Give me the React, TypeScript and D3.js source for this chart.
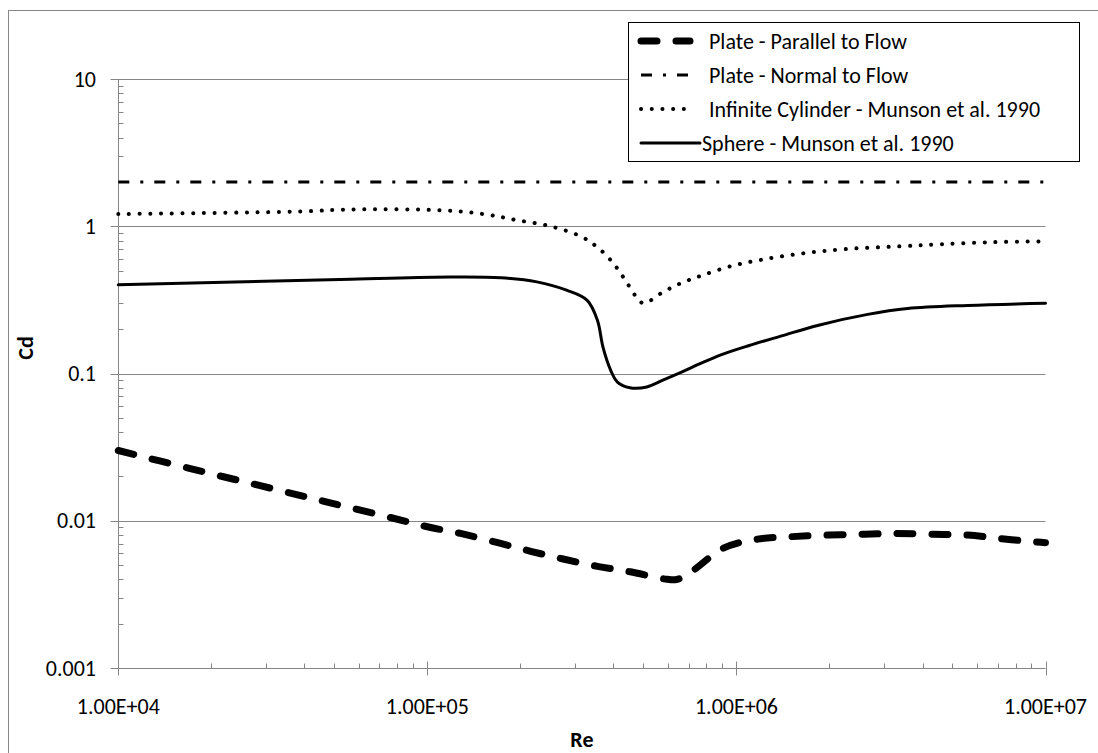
import { useEffect, useRef } from "react";
import * as d3 from "d3";

// ---------------- data ----------------
const parallelRe = [1e4, 1.71e4, 2.88e4, 4.74e4, 7.76e4, 1e5, 1.28e5, 1.69e5, 2.16e5, 2.75e5, 3.55e5, 4.53e5, 5.97e5, 6.43e5, 7.24e5, 9.06e5, 1.17e6, 1.51e6, 1.98e6, 2.6e6, 3.3e6, 4.3e6, 5.6e6, 7.0e6, 9.1e6, 1e7];
const parallelCd = [0.03, 0.0226, 0.0173, 0.0134, 0.0104, 0.0091, 0.0082, 0.0071, 0.0062, 0.0055, 0.0049, 0.0045, 0.0040, 0.0040, 0.0046, 0.0065, 0.0075, 0.0078, 0.0080, 0.0081, 0.0082, 0.0081, 0.0080, 0.0076, 0.0072, 0.0071];

const normalRe = [1e4, 1e7];
const normalCd = [2, 2];

const cylinderRe = [1e4, 3.88e4, 5.65e4, 1.14e5, 1.56e5, 1.95e5, 2.5e5, 3.13e5, 3.55e5, 3.97e5, 4.34e5, 4.75e5, 5.0e5, 5.77e5, 6.6e5, 7.66e5, 9.57e5, 1.22e6, 1.65e6, 2.26e6, 3.36e6, 4.6e6, 6.8e6, 1e7];
const cylinderCd = [1.21, 1.26, 1.3, 1.28, 1.2, 1.1, 1.0, 0.855, 0.72, 0.57, 0.44, 0.33, 0.3, 0.356, 0.41, 0.46, 0.535, 0.595, 0.655, 0.7, 0.73, 0.755, 0.78, 0.79];

const sphereRe = [1e4, 5.65e4, 1.19e5, 1.73e5, 2.26e5, 2.82e5, 3.29e5, 3.55e5, 3.7e5, 3.92e5, 4.12e5, 4.52e5, 5.13e5, 5.78e5, 6.7e5, 7.66e5, 9e5, 1.1e6, 1.4e6, 1.83e6, 2.66e6, 3.58e6, 5.6e6, 1e7];
const sphereCd = [0.4, 0.436, 0.452, 0.447, 0.419, 0.368, 0.314, 0.23, 0.151, 0.105, 0.0875, 0.08, 0.081, 0.09, 0.103, 0.117, 0.135, 0.155, 0.18, 0.212, 0.252, 0.276, 0.29, 0.3];

const seriesNames = ["Plate - Parallel to Flow", "Plate - Normal to Flow", "Infinite Cylinder - Munson et al. 1990", "Sphere - Munson et al. 1990"];
const xTickLabels = ["1.00E+04", "1.00E+05", "1.00E+06", "1.00E+07"];
const yTickLabels = ["0.001", "0.01", "0.1", "1", "10"];

const FONT = "Calibri, Carlito, Lato, sans-serif";
const GRAY = "#868686";
const FS = 22;

const App = () => {
  const svgRef = useRef(null);

  useEffect(() => {
    const svg = d3.select(svgRef.current);
    svg.selectAll("*").remove();

    ///////////////////////Plot area//////////////////////////////
    const left = 118.3, right = 1045.5, top = 79, bottom = 668;

    const x = d3.scaleLog().domain([1e4, 1e7]).range([left, right]);
    const y = d3.scaleLog().domain([0.001, 10]).range([bottom, top]);

    // chart border
    svg.append("rect")
      .attr("x", 8.5).attr("y", 10.5)
      .attr("width", 1200).attr("height", 900)
      .attr("fill", "none").attr("stroke", GRAY);

    // gridlines
    const yMajor = yTickLabels.map(Number);
    svg.append("g").selectAll("line")
      .data(yMajor.filter(d => d > 0.001))
      .enter().append("line")
      .attr("x1", left).attr("x2", right)
      .attr("y1", d => Math.round(y(d)) + 0.5).attr("y2", d => Math.round(y(d)) + 0.5)
      .attr("stroke", GRAY).attr("stroke-width", 1);

    // y axis
    const yMinor = [];
    for (let e = -3; e < 1; e++) for (let k = 2; k < 10; k++) yMinor.push(k * Math.pow(10, e));
    const ax = Math.round(left) + 0.5;
    svg.append("line").attr("x1", ax).attr("x2", ax).attr("y1", top).attr("y2", bottom)
      .attr("stroke", GRAY);
    svg.append("g").selectAll("line").data(yMinor).enter().append("line")
      .attr("x1", ax).attr("x2", ax + 5)
      .attr("y1", d => Math.round(y(d)) + 0.5).attr("y2", d => Math.round(y(d)) + 0.5)
      .attr("stroke", GRAY);
    svg.append("g").selectAll("line").data(yMajor).enter().append("line")
      .attr("x1", ax - 8).attr("x2", ax + 3)
      .attr("y1", d => Math.round(y(d)) + 0.5).attr("y2", d => Math.round(y(d)) + 0.5)
      .attr("stroke", GRAY);
    svg.append("g").selectAll("text").data(yTickLabels).enter().append("text")
      .attr("x", 96).attr("y", d => y(+d))
      .attr("dy", "0.35em")
      .attr("text-anchor", "end")
      .attr("font-family", FONT).attr("font-size", FS)
      .text(d => d);

    // x axis
    const xMajor = [1e4, 1e5, 1e6, 1e7];
    const xMinor = [];
    for (let e = 4; e < 7; e++) for (let k = 2; k < 10; k++) xMinor.push(k * Math.pow(10, e));
    const ay = Math.round(bottom) + 0.5;
    svg.append("line").attr("x1", left).attr("x2", right).attr("y1", ay).attr("y2", ay)
      .attr("stroke", GRAY);
    svg.append("g").selectAll("line").data(xMinor).enter().append("line")
      .attr("x1", d => Math.round(x(d)) + 0.5).attr("x2", d => Math.round(x(d)) + 0.5)
      .attr("y1", ay - 5).attr("y2", ay)
      .attr("stroke", GRAY);
    svg.append("g").selectAll("line").data(xMajor).enter().append("line")
      .attr("x1", d => Math.round(x(d)) + 0.5).attr("x2", d => Math.round(x(d)) + 0.5)
      .attr("y1", ay - 7).attr("y2", ay + 7)
      .attr("stroke", GRAY);
    svg.append("g").selectAll("text").data(xTickLabels).enter().append("text")
      .attr("x", (d, i) => x(xMajor[i])).attr("y", 714)
      .attr("text-anchor", "middle")
      .attr("font-family", FONT).attr("font-size", FS)
      .text(d => d);

    // axis titles
    svg.append("text")
      .attr("x", (left + right) / 2).attr("y", 747)
      .attr("text-anchor", "middle")
      .attr("font-family", FONT).attr("font-size", FS).attr("font-weight", "bold")
      .text("Re");
    svg.append("text")
      .attr("transform", "translate(33,348) rotate(-90)")
      .attr("text-anchor", "middle")
      .attr("font-family", FONT).attr("font-size", FS).attr("font-weight", "bold")
      .text("Cd");

    ///////////////////////Series//////////////////////////////
    const styles = [
      { width: 7, dash: "16,19", cap: "round" },
      { width: 3, dash: "11,11,3,11", cap: "butt" },
      { width: 4, dash: "0.1,10.6", cap: "round" },
      { width: 3, dash: null, cap: "round" },
    ];
    const seriesData = [
      parallelRe.map((r, i) => [r, parallelCd[i]]),
      normalRe.map((r, i) => [r, normalCd[i]]),
      cylinderRe.map((r, i) => [r, cylinderCd[i]]),
      sphereRe.map((r, i) => [r, sphereCd[i]]),
    ];
    const line = d3.line()
      .x(d => x(d[0]))
      .y(d => y(d[1]))
      .curve(d3.curveCatmullRom.alpha(0.5));

    seriesData.forEach((data, i) => {
      const p = svg.append("path")
        .attr("d", line(data))
        .attr("fill", "none")
        .attr("stroke", "#000")
        .attr("stroke-width", styles[i].width)
        .attr("stroke-linecap", styles[i].cap)
        .attr("stroke-linejoin", "round");
      if (styles[i].dash) p.attr("stroke-dasharray", styles[i].dash);
    });

    ///////////////////////Legend//////////////////////////////
    const legX = 628, legY = 22.5, legW = 1079 - 628, rowH = 34;
    svg.append("rect")
      .attr("x", legX + 0.5).attr("y", legY)
      .attr("width", legW).attr("height", 4 * rowH + 3)
      .attr("fill", "#fff").attr("stroke", "#000");
    seriesNames.forEach((name, i) => {
      const cy = 41 + i * rowH;
      const s = styles[i];
      const l = svg.append("line")
        .attr("x1", 641).attr("x2", i === 3 ? 700 : 690)
        .attr("y1", cy).attr("y2", cy)
        .attr("stroke", "#000")
        .attr("stroke-width", s.width)
        .attr("stroke-linecap", s.cap);
      if (s.dash) l.attr("stroke-dasharray", s.dash);
      svg.append("text")
        .attr("x", i === 3 ? 702 : 709).attr("y", cy)
        .attr("dy", "0.35em")
        .attr("font-family", FONT).attr("font-size", FS)
        .text(name);
    });
  }, []);

  return (
    <div>
      <svg
        ref={svgRef}
        width={1098}
        height={753}
        style={{ position: "absolute", left: 0, top: 0, background: "#fff" }}
      ></svg>
    </div>
  );
};

export default App;
